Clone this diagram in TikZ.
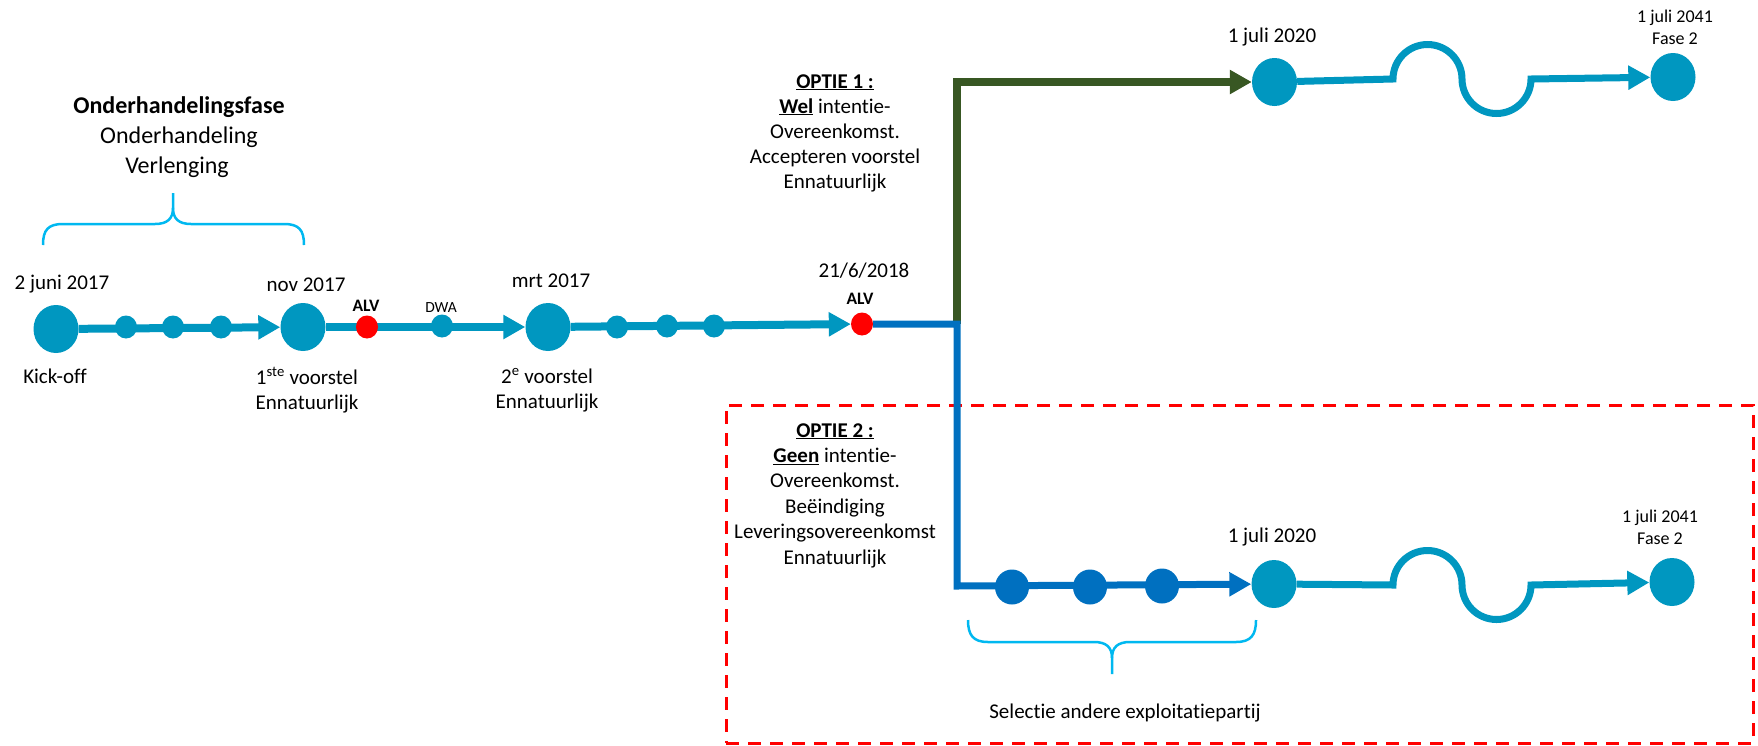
\documentclass[tikz,border=0pt]{standalone}
\usepackage{fontspec}
\setmainfont[Ligatures={NoCommon}]{Carlito}
\usetikzlibrary{arrows.meta,shapes.geometric,backgrounds}
\definecolor{tealc}{RGB}{0,151,192}
\definecolor{bluec}{RGB}{0,112,192}
\definecolor{greenc}{RGB}{56,87,35}
\definecolor{bracec}{RGB}{0,184,240}
\definecolor{redc}{RGB}{255,0,0}
\begin{document}
\begin{tikzpicture}[x=1pt,y=-1pt,
  big/.style={ellipse, fill=tealc, inner sep=0pt, minimum width=45pt, minimum height=48pt},
  dot/.style={ellipse, fill=tealc, inner sep=0pt, minimum width=22pt, minimum height=23pt},
  alvdot/.style={ellipse, fill=redc, inner sep=0pt, minimum width=22pt, minimum height=23pt},
  bdot/.style={ellipse, fill=bluec, inner sep=0pt, minimum width=34pt, minimum height=35pt},
  lbl/.style={inner sep=0pt, anchor=base, font=\fontsize{21}{25}\selectfont},
  hdr/.style={inner sep=0pt, anchor=base, font=\fontsize{24}{29}\selectfont},
  smalllbl/.style={inner sep=0pt, anchor=base, font=\fontsize{18}{22.5}\selectfont},
  alvlbl/.style={inner sep=0pt, anchor=base, font=\bfseries\fontsize{17.5}{20}\selectfont},
  dwalbl/.style={inner sep=0pt, anchor=base, font=\fontsize{15.5}{18}\selectfont},
  tline/.style={draw=tealc, line width=8pt},
  tiparrow/.style={-{Triangle[length=22pt,width=23pt]}},
  bracepath/.style={draw=bracec, line width=2.5pt},
]
\useasboundingbox (0,0) rectangle (1758,745);

% nodes of the timeline
\node[big] (ko) at (56,329) {};
\node[dot] (d1) at (126,327) {};
\node[dot] (d2) at (173,327) {};
\node[dot] (d3) at (221,327) {};
\node[big] (nov) at (303,327) {};
\node[alvdot] (alv1) at (367,327) {};
\node[dot] (dwa) at (442,326) {};
\node[big] (mrt) at (548,327) {};
\node[dot] (d4) at (617,327) {};
\node[dot] (d5) at (667,326) {};
\node[dot] (d6) at (714,326) {};
\node[alvdot] (alv2) at (862,324) {};
\coordinate (split) at (957,324);
\coordinate (gcorner) at (957,82);
\coordinate (bcorner) at (957,586);
\node[big] (t2020) at (1274.5,82) {};
\node[big] (t2041) at (1673,77) {};
\node[bdot] (b1) at (1012,587) {};
\node[bdot] (b2) at (1090,587) {};
\node[bdot] (b3) at (1162,586) {};
\node[big] (b2020) at (1274,584) {};
\node[big] (b2041) at (1672,582) {};

\begin{pgfonlayer}{background}
  \node[draw=redc, line width=3pt, dash pattern=on 13pt off 9pt, inner sep=0pt,
        minimum width=1027pt, minimum height=338pt] (box) at (1239.5,574) {};
  \draw[tline,tiparrow] (ko) -- (nov);
  \draw[tline,tiparrow] (nov) -- (mrt);
  \draw[tline,tiparrow] (mrt) -- (alv2);
  \draw[draw=greenc, line width=7.3pt, line join=miter, tiparrow] (split) -- (gcorner) -- (t2020);
  \draw[draw=bluec, line width=7pt, line join=miter, tiparrow] (alv2) -- (split) -- (bcorner) -- (b2020);
  \draw[draw=tealc, line width=7pt, tiparrow] (t2020) -- (1393,79)
     arc[start angle=180, end angle=360, radius=34.5]
     arc[start angle=180, end angle=0, radius=34.5] -- (t2041);
  \draw[draw=tealc, line width=7pt, tiparrow] (b2020) -- (1393,585)
     arc[start angle=180, end angle=360, radius=34.5]
     arc[start angle=180, end angle=0, radius=34.5] -- (b2041);
\end{pgfonlayer}

% braces
\draw[bracepath] (43,245) .. controls (43,230) and (48,224) .. (63,224) -- (155,224)
   .. controls (167,224) and (173,219) .. (173,208) -- (173,193);
\draw[bracepath] (304,245) .. controls (304,230) and (299,224) .. (284,224) -- (191,224)
   .. controls (179,224) and (173,219) .. (173,208);
\draw[bracepath] (968,620) .. controls (968,635) and (973,642) .. (988,642) -- (1094,642)
   .. controls (1106,642) and (1112,647) .. (1112,658) -- (1112,674);
\draw[bracepath] (1256,620) .. controls (1256,635) and (1251,642) .. (1236,642) -- (1130,642)
   .. controls (1118,642) and (1112,647) .. (1112,658);

% texts
\node[hdr, font=\bfseries\fontsize{24}{29}\selectfont] (hd1) at (179,113) {Onderhandelingsfase};
\node[hdr] (hd2) at (179,143) {Onderhandeling};
\node[hdr] (hd3) at (177,173) {Verlenging};

\node[lbl] (l1) at (62,289) {2 juni 2017};
\node[lbl] (l2) at (306,291) {nov 2017};
\node[lbl] (l3) at (551,287) {mrt 2017};
\node[lbl] (l4) at (864,277) {21/6/2018};
\node[alvlbl] (a1) at (366,311) {ALV};
\node[alvlbl] (a2) at (860,304) {ALV};
\node[dwalbl] (dw) at (441,312) {DWA};
\node[lbl] (kol) at (55,383) {Kick-off};
\node[lbl] (v1a) at (307,384) {1\textsuperscript{ste} voorstel};
\node[lbl] (v1b) at (307,409) {Ennatuurlijk};
\node[lbl] (v2a) at (547,383) {2\textsuperscript{e} voorstel};
\node[lbl] (v2b) at (547,408) {Ennatuurlijk};

\node[lbl] (opt1) at (835,88) {\begin{tabular}[t]{@{}c@{}}\underline{\textbf{OPTIE 1 :}}\\
  \underline{\textbf{Wel}} intentie-\\ Overeenkomst.\\ Accepteren voorstel\\ Ennatuurlijk\end{tabular}};
\node[lbl, font=\fontsize{21}{25.4}\selectfont] (opt2) at (835,437) {\begin{tabular}[t]{@{}c@{}}\underline{\textbf{OPTIE 2 :}}\\
  \underline{\textbf{Geen}} intentie-\\ Overeenkomst.\\ Beëindiging\\ Leveringsovereenkomst\\ Ennatuurlijk\end{tabular}};

\node[lbl] (lt2020) at (1272,42) {1 juli 2020};
\node[lbl] (lb2020) at (1272,542) {1 juli 2020};
\node[smalllbl] (lt2041) at (1675,22) {\begin{tabular}[t]{@{}c@{}}1 juli 2041\\ Fase 2\end{tabular}};
\node[smalllbl] (lb2041) at (1660,522) {\begin{tabular}[t]{@{}c@{}}1 juli 2041\\ Fase 2\end{tabular}};
\node[lbl] (sel) at (1125,718) {Selectie andere exploitatiepartij};
\end{tikzpicture}
\end{document}
